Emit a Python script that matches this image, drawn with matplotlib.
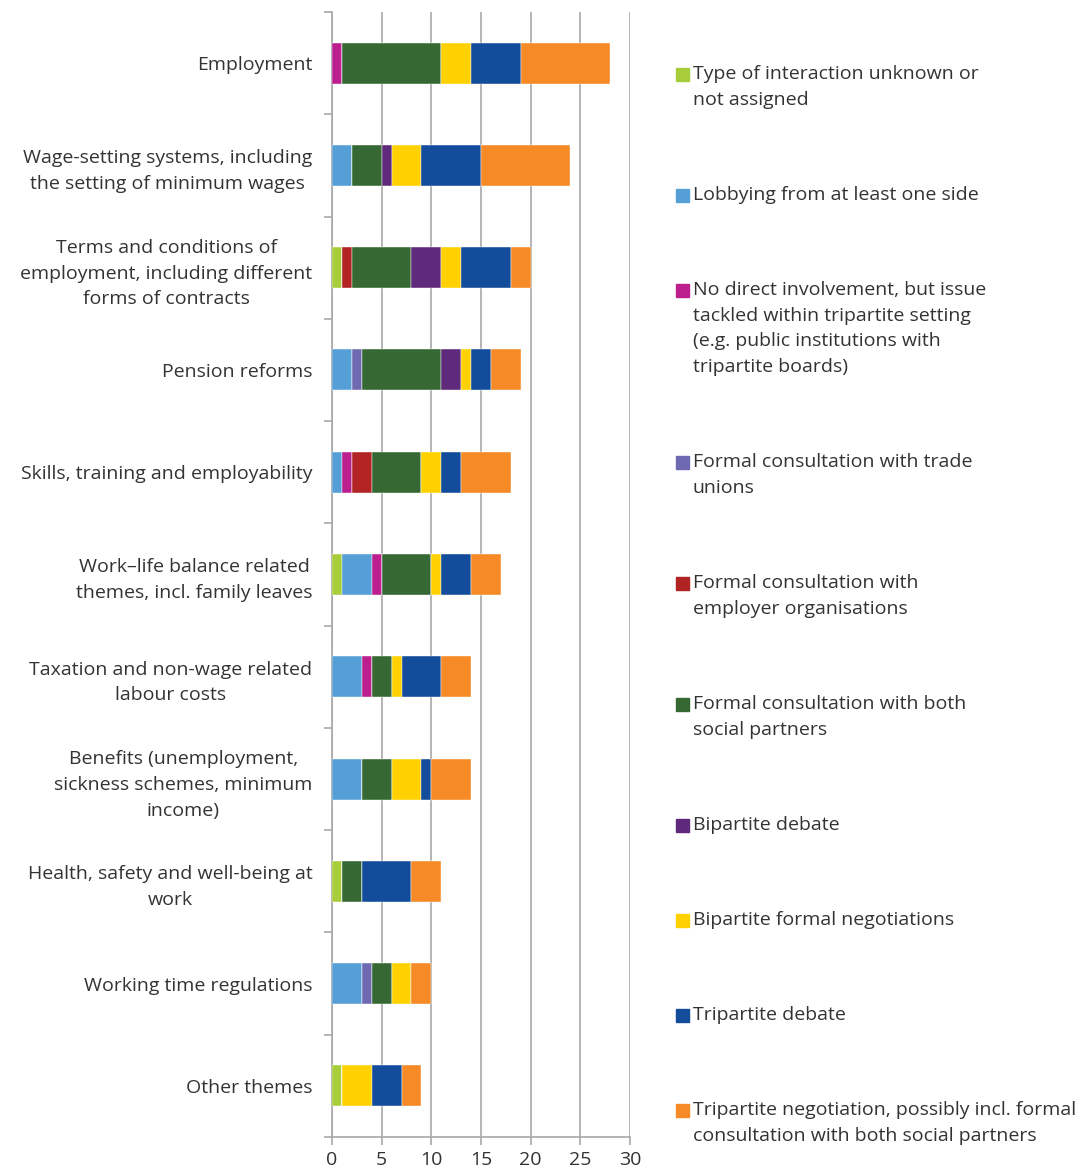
import matplotlib
matplotlib.use("Agg")
import matplotlib.pyplot as plt
from matplotlib.patches import Rectangle
import numpy as np

plt.rcParams['font.family'] = ['Open Sans', 'DejaVu Sans']

themes = [
    "Employment",
    "Wage-setting systems, including\nthe setting of minimum wages",
    "Terms and conditions of\nemployment, including different\nforms of contracts",
    "Pension reforms",
    "Skills, training and employability",
    "Work\u2013life balance related\nthemes, incl. family leaves",
    "Taxation and non-wage related\nlabour costs",
    "Benefits (unemployment,\nsickness schemes, minimum\nincome)",
    "Health, safety and well-being at\nwork",
    "Working time regulations",
    "Other themes",
]

series_names = [
    "Type of interaction unknown or\nnot assigned",
    "Lobbying from at least one side",
    "No direct involvement, but issue\ntackled within tripartite setting\n(e.g. public institutions with\ntripartite boards)",
    "Formal consultation with trade\nunions",
    "Formal consultation with\nemployer organisations",
    "Formal consultation with both\nsocial partners",
    "Bipartite debate",
    "Bipartite formal negotiations",
    "Tripartite debate",
    "Tripartite negotiation, possibly incl. formal\nconsultation with both social partners",
]

# one list per interaction type, in theme order
unknown      = [0, 0, 1, 0, 0, 1, 0, 0, 1, 0, 1]
lobbying     = [0, 2, 0, 2, 1, 3, 3, 3, 0, 3, 0]
no_direct    = [1, 0, 0, 0, 1, 1, 1, 0, 0, 0, 0]
consult_tu   = [0, 0, 0, 1, 0, 0, 0, 0, 0, 1, 0]
consult_emp  = [0, 0, 1, 0, 2, 0, 0, 0, 0, 0, 0]
consult_both = [10, 3, 6, 8, 5, 5, 2, 3, 2, 2, 0]
bip_debate   = [0, 1, 3, 2, 0, 0, 0, 0, 0, 0, 0]
bip_neg      = [3, 3, 2, 1, 2, 1, 1, 3, 0, 2, 3]
tri_debate   = [5, 6, 5, 2, 2, 3, 4, 1, 5, 0, 3]
tri_neg      = [9, 9, 2, 3, 5, 3, 3, 4, 3, 2, 2]

series = [unknown, lobbying, no_direct, consult_tu, consult_emp,
          consult_both, bip_debate, bip_neg, tri_debate, tri_neg]

colors = ["#A8CD3A", "#559FD6", "#BC1F8D", "#6E69B0", "#B22324",
          "#356832", "#5F2A7B", "#FFD100", "#134C9A", "#F58A27"]

text_color = "#333333"
grid_color = "#A8A8AC"
fs = 14
lsp = 1.55

fig = plt.figure(figsize=(10.8, 11.73), dpi=100)
ax = fig.add_axes([332 / 1080, 1 - 1137 / 1173, 298 / 1080, 1125 / 1173])

y = np.arange(len(themes))
left = np.zeros(len(themes))
for vals, col in zip(series, colors):
    vals = np.array(vals, dtype=float)
    ax.barh(y, vals, left=left, height=0.4, color=col,
            edgecolor="white", linewidth=0.3, zorder=3)
    left += vals

ax.set_xlim(0, 30)
ax.set_ylim(len(themes) - 0.5, -0.5)
ax.set_xticks(range(0, 31, 5))
ax.grid(axis="x", color=grid_color, linewidth=1.2, zorder=0)
ax.set_axisbelow(True)

ax.set_yticks(y)
ax.set_yticklabels(themes, multialignment="center", linespacing=lsp)
ax.set_yticks(np.arange(-0.5, len(themes)), minor=True)
ax.tick_params(axis="y", which="major", length=0, pad=14,
               labelsize=fs, labelcolor=text_color)
ax.tick_params(axis="y", which="minor", length=6, width=1.2, color=grid_color)
ax.tick_params(axis="x", length=6, width=1.2, color=grid_color,
               labelsize=fs, labelcolor=text_color, pad=4)

for s in ["top", "right"]:
    ax.spines[s].set_visible(False)
for s in ["left", "bottom"]:
    ax.spines[s].set_color(grid_color)
    ax.spines[s].set_linewidth(1.2)

# legend on the right, built by hand so entries spread down the figure
legend_y = [74, 195, 290, 462, 583, 704, 825, 920, 1015, 1110]
H = 1173.0
for name, col, yy in zip(series_names, colors, legend_y):
    fig.patches.append(Rectangle((676 / 1080, 1 - (yy + 7) / H), 13 / 1080, 13 / H,
                                 transform=fig.transFigure, color=col))
    fig.text(693 / 1080, 1 - (yy - 9) / H, name, ha="left", va="top",
             fontsize=fs, color=text_color, linespacing=lsp)

fig.savefig("out.png", dpi=100, facecolor="white")
